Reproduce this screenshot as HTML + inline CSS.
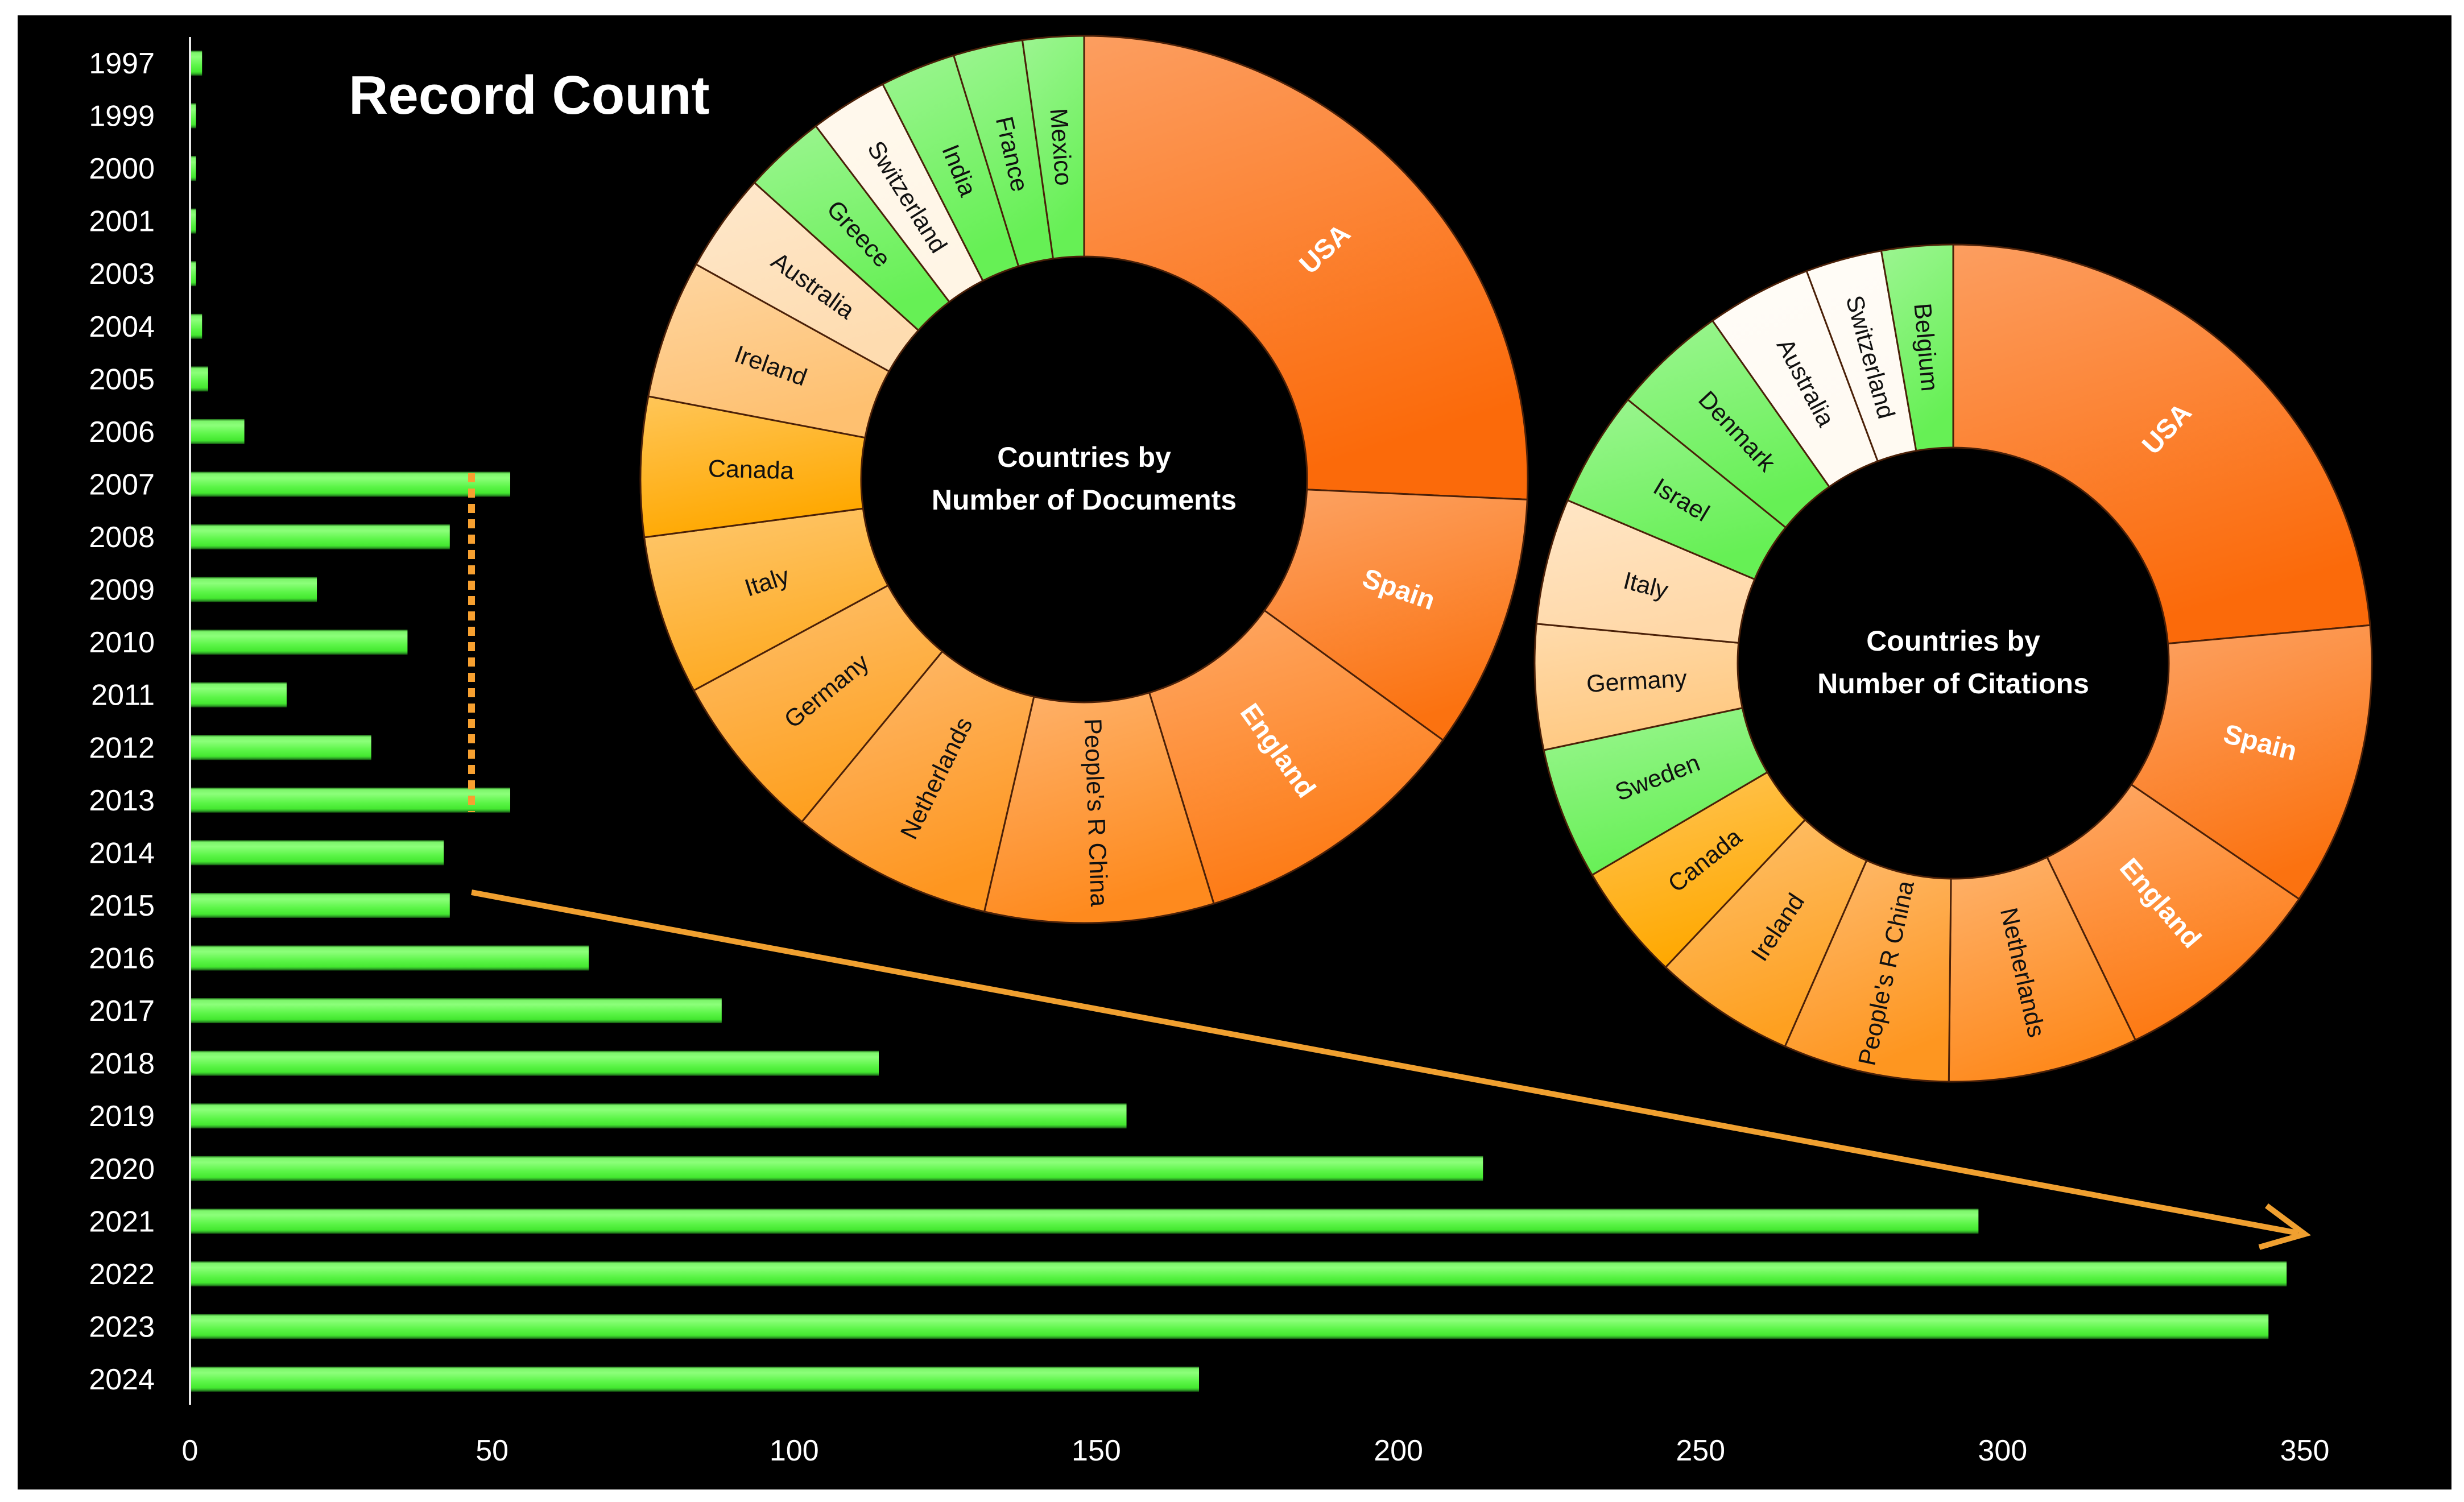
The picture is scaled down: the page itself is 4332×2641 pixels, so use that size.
<!DOCTYPE html>
<html><head><meta charset="utf-8"><style>
html,body{margin:0;padding:0;background:#fff;}
svg{display:block;font-family:"Liberation Sans",sans-serif;}
</style></head><body>
<svg id="chart" width="4332" height="2641" viewBox="0 0 4332 2641" xmlns="http://www.w3.org/2000/svg">
<defs>
<linearGradient id="barGrad" x1="0" y1="0" x2="0" y2="1">
<stop offset="0" stop-color="#1f6a18"/><stop offset="0.08" stop-color="#7cf56a"/><stop offset="0.25" stop-color="#8cff7a"/><stop offset="0.6" stop-color="#5cf548"/><stop offset="0.85" stop-color="#44e830"/><stop offset="0.93" stop-color="#2fa826"/><stop offset="1" stop-color="#144d10"/>
</linearGradient>
</defs>
<rect x="31" y="27" width="4279" height="2592" fill="#000"/>
<g id="bars"></g>
<g id="donuts"></g>
<line x1="334" y1="65" x2="334" y2="2470" stroke="#e8e8e8" stroke-width="4"/>
<text x="613" y="200" fill="#fff" font-size="96" font-weight="bold">Record Count</text>
<line x1="829" y1="832" x2="829" y2="1428" stroke="#f7a030" stroke-width="12" stroke-dasharray="16 11"/>
<g>
<line x1="829" y1="1569" x2="4040" y2="2168" stroke="#f0a030" stroke-width="10"/>
<polyline points="3985,2120 4052,2170 3972,2193" fill="none" stroke="#f0a030" stroke-width="10" stroke-linejoin="miter"/>
</g>
</svg>
<script>
const years = ["1997","1999","2000","2001","2003","2004","2005","2006","2007","2008","2009","2010","2011","2012","2013","2014","2015","2016","2017","2018","2019","2020","2021","2022","2023","2024"];
const counts = [2,1,1,1,1,2,3,9,53,43,21,36,16,30,53,42,43,66,88,114,155,214,296,347,344,167];
const xTicks = [0,50,100,150,200,250,300,350];

const docCountries = ["USA","Spain","England","People's R China","Netherlands","Germany","Italy","Canada","Ireland","Australia","Greece","Switzerland","India","France","Mexico"];
const docShares = [92.6,33.4,37,30,26.5,22.1,20.9,18.3,18.2,13,10.8,10.2,9.9,9.1,8];
const docColors = ["#fb6a0a","#fb7210","#fd7a14","#fe8a1e","#fe9620","#fea020","#feaa22","#ffa800","#fec070","#fedcb0","#66f055","#fff5e5","#66f055","#66f055","#66f055"];

const citCountries = ["USA","Spain","England","Netherlands","People's R China","Ireland","Canada","Sweden","Germany","Italy","Israel","Denmark","Australia","Switzerland","Belgium"];
const citShares = [84.8,39.5,29.9,26.4,23.1,19.7,16.2,18.4,17.4,17.5,16.1,15.9,14.6,10.6,9.9];
const citColors = ["#fb6a0a","#fb7210","#fd7a14","#fe8a1e","#fe9620","#fea020","#ffa800","#66f055","#ffc880","#ffd8a8","#66f055","#66f055","#fffaf2","#fffaf2","#66f055"];

const NS = "http://www.w3.org/2000/svg";
const svg = document.getElementById('chart');
const defs = svg.querySelector('defs');
function mk(tag, attrs, parent){const e=document.createElementNS(NS,tag);for(const k in attrs)e.setAttribute(k,attrs[k]);parent.appendChild(e);return e;}

const x0=334, pxPerUnit=(4052-334)/350;
const xScale = v => x0 + v*pxPerUnit;
const yTop=111, rowStep=(2425-111)/25;
const yScale = i => yTop + i*rowStep;
const barH = 44;

const gBars = document.getElementById('bars');
years.forEach((yr,i)=>{
  const t = mk('text',{x:272,y:yScale(i)+18,fill:'#fff','font-size':52,'text-anchor':'end'},gBars);
  
  
  t.textContent = yr;
  const r = mk('rect',{x:x0,y:yScale(i)-barH/2,width:Math.max(2,xScale(counts[i])-x0),height:barH,fill:'url(#barGrad)'},gBars);
  
  
});
xTicks.forEach(v=>{
  const t = mk('text',{x:xScale(v),y:2568,fill:'#fff','font-size':52,'text-anchor':'middle'},gBars);
  
  
  t.textContent = v;
});

function lighten(hex,f){const n=parseInt(hex.slice(1),16);let r=n>>16,g=(n>>8)&255,b=n&255;r=Math.round(r+(255-r)*f);g=Math.round(g+(255-g)*f);b=Math.round(b+(255-b)*f);return `rgb(${r},${g},${b})`;}

const gD = document.getElementById('donuts');
function donut(id,cx,cy,R,r,names,shares,colors,title){
  const g = mk('g',{},gD);
  
  
  const total = shares.reduce((a,b)=>a+b,0);
  let acc=0;
  const pt=(rad,deg)=>{const a=deg*Math.PI/180;return [cx+rad*Math.sin(a),cy-rad*Math.cos(a)];};
  names.forEach((nm,i)=>{
    const a0=acc/total*360, a1=(acc+shares[i])/total*360; acc+=shares[i];
    const gid=id+'-g'+i;
    const lgd=mk('linearGradient',{id:gid,x1:0,y1:0,x2:0.3,y2:1},defs);
    mk('stop',{offset:0,'stop-color':lighten(colors[i],0.35)},lgd);
    mk('stop',{offset:1,'stop-color':colors[i]},lgd);
    const [x1,y1]=pt(R,a0),[x2,y2]=pt(R,a1),[x3,y3]=pt(r,a1),[x4,y4]=pt(r,a0);
    const lg=(a1-a0)>180?1:0;
    const p=mk('path',{d:`M${x1},${y1}A${R},${R} 0 ${lg} 1 ${x2},${y2}L${x3},${y3}A${r},${r} 0 ${lg} 0 ${x4},${y4}Z`,fill:`url(#${gid})`,stroke:'#4a2008','stroke-width':3},g);
    
    
    const mid=(a0+a1)/2;
    const [lx,ly]=pt((R+r)/2,mid);
    const rot = mid<=180 ? mid-90 : mid-270;
    const white = i<3;
    const t=mk('text',{x:lx,y:ly,fill:white?'#fff':'#111','font-size':white?48:43,'font-weight':white?'bold':'normal','text-anchor':'middle','dominant-baseline':'central',transform:`rotate(${rot} ${lx} ${ly})`},g);
    
    
    t.textContent=nm;
  });
  mk('circle',{cx:cx,cy:cy,r:r-2,fill:'#000'},g);
  title.forEach((ln,k)=>{
    const t=mk('text',{x:cx,y:cy-22+k*75,fill:'#fff','font-size':50,'font-weight':'bold','text-anchor':'middle'},g);
    
    
    t.textContent=ln;
  });
}
donut('documents-donut',1906,843,780,392,docCountries,docShares,docColors,["Countries by","Number of Documents"]);
donut('citations-donut',3434,1166,736,379,citCountries,citShares,citColors,["Countries by","Number of Citations"]);
</script>
</body></html>
